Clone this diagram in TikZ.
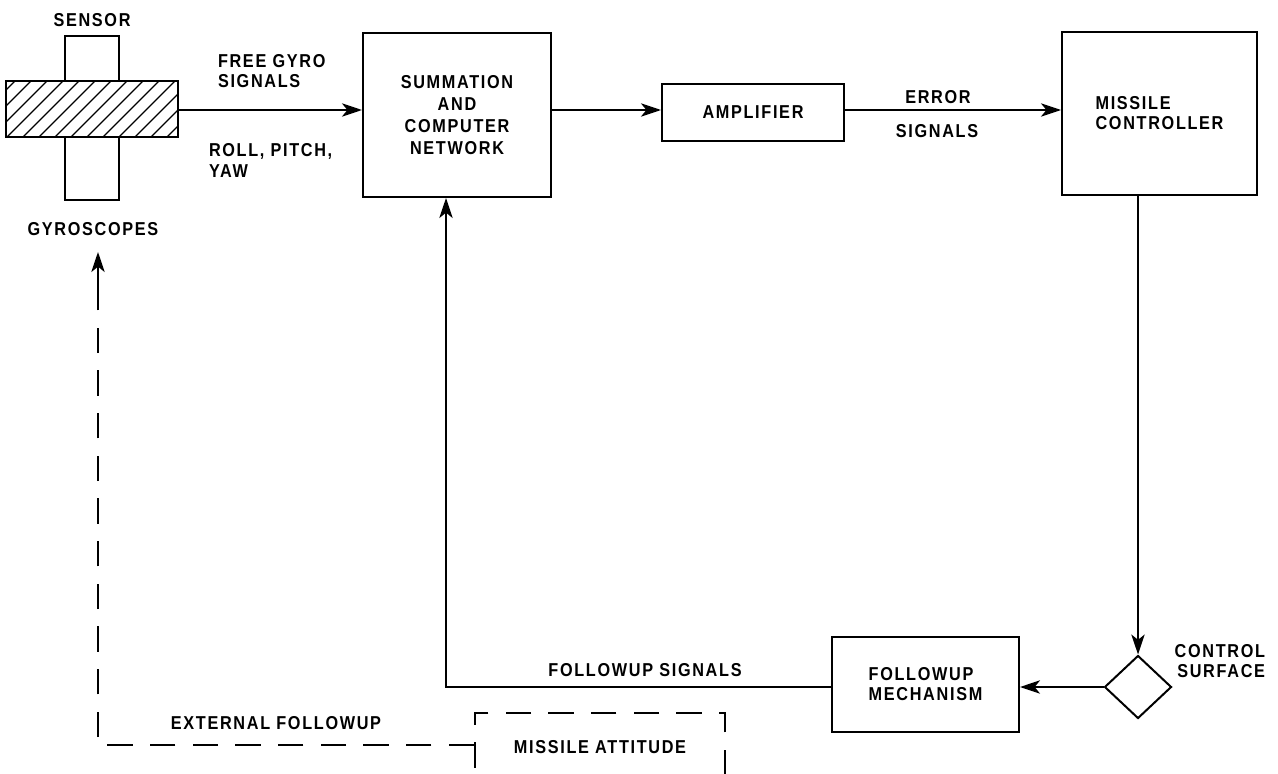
\documentclass[tikz,border=0pt]{standalone}
\usepackage{fontspec}
\setmainfont{Liberation Sans}[LetterSpace=9,FakeStretch=0.87]
\usetikzlibrary{arrows.meta,shapes.geometric}
\begin{document}
\begin{tikzpicture}[x=0.75pt,y=-0.75pt,
  line width=1.5pt,
  every node/.style={font=\fontsize{14pt}{15pt}\selectfont\bfseries, inner sep=0pt},
  box/.style={draw, rectangle, align=center},
  arr/.style={-{Stealth[length=15pt,width=10pt,inset=4pt]}},
  dsh/.style={dash pattern=on 19pt off 13pt},
]
\useasboundingbox (0,0) rectangle (1278,774);
\clip (0,0) rectangle (1278,774);

% sensor / gyroscopes
\node[box, fill=white, minimum width=40.5pt, minimum height=123pt] (gyrov) at (92,118) {};
\node[rectangle, fill=white, minimum width=127.5pt, minimum height=39.75pt] (gyro) at (92,109) {};
\begin{scope}
  \clip (gyro.south west) rectangle (gyro.north east);
  \foreach \k in {-4,...,11} \draw[line width=1pt] (7+16*\k,137) -- ++(58,-58);
\end{scope}
\draw (gyro.south west) rectangle (gyro.north east);

\node (sensorlbl) at (92,20.5) {SENSOR};
\node (gyrolbl) at (93,229) {GYROSCOPES};

% blocks
\node[box, font=\fontsize{14pt}{16.3pt}\selectfont\bfseries, minimum width=141pt, minimum height=123pt] (sum) at (457,115) {SUMMATION\\AND\\COMPUTER\\NETWORK};
\node[box, minimum width=136.5pt, minimum height=42.75pt] (amp) at (753,112.5) {AMPLIFIER};
\node[box, align=left, minimum width=146.25pt, minimum height=122.25pt] (ctrl) at (1159.5,113.5) {MISSILE\\CONTROLLER};
\node[box, align=left, minimum width=140.25pt, minimum height=71.25pt] (fm) at (925.5,684.5) {FOLLOWUP\\MECHANISM};
\node[draw, diamond, aspect=1, minimum width=50.25pt, minimum height=47.25pt] (cs) at (1138,687) {};
\node[draw, dsh, minimum width=187.5pt, minimum height=51pt] (att) at (600,747) {MISSILE ATTITUDE};

% labels
\node[anchor=north west, align=left] (fg) at (217,53) {FREE GYRO\\SIGNALS};
\node[anchor=north west, align=left, font=\fontsize{14pt}{15.75pt}\selectfont\bfseries] (rpy) at (208,142) {ROLL, PITCH,\\YAW};
\node (err) at (938,97) {ERROR};
\node (errs) at (937,131) {SIGNALS};
\node[anchor=north east, align=right] (csl) at (1266,643) {CONTROL\\SURFACE};
\node (fus) at (645,670) {FOLLOWUP SIGNALS};
\node (extl) at (276,723) {EXTERNAL FOLLOWUP};

% connectors
\coordinate (mainy) at (0,110);
\draw[arr] (gyro.east |- mainy) -- (sum.west |- mainy);
\draw[arr] (sum.east |- mainy) -- (amp.west |- mainy);
\draw[arr] (amp.east |- mainy) -- (ctrl.west |- mainy);
\draw[arr] (cs.north |- ctrl.south) -- (cs.north);
\draw[arr] (cs.west) -- (cs.west -| fm.east);
\coordinate (fu) at (446,687);
\draw[arr] (fm.west |- fu) -- (fu) -- (fu |- sum.south);
\coordinate (ec) at (98,745);
\coordinate (gshaft) at (98,295);
\coordinate (gtip) at (98,252);
\draw[dsh] (att.west |- ec) -- (ec) -- (gshaft);
\draw[arr] (gshaft) -- (gtip);
\end{tikzpicture}
\end{document}
